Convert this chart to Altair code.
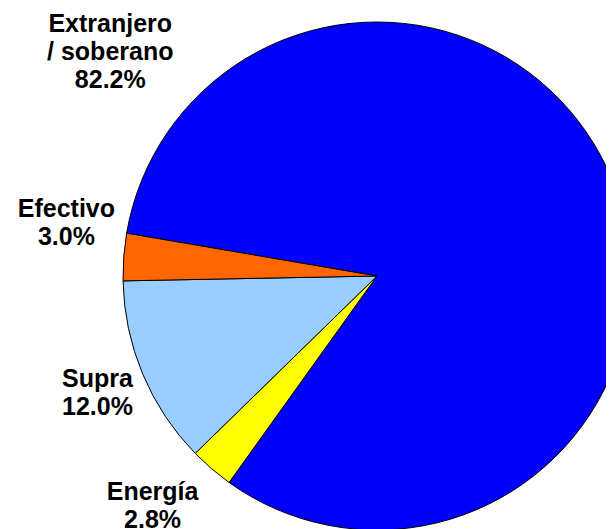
import math
import altair as alt
import pandas as pd

categorias = ["Extranjero / soberano", "Energía", "Supra", "Efectivo"]
etiquetas = ["Extranjero\n/ soberano", "Energía", "Supra", "Efectivo"]
valores = [82.2, 2.8, 12.0, 3.0]
colores = ["#0000FF", "#FFFF00", "#99CCFF", "#FF6600"]

df = pd.DataFrame({
    "categoria": categorias,
    "etiqueta": etiquetas,
    "valor": valores,
    "orden": list(range(len(categorias))),
})

W, H = 598, 521
CX, CY = 369, 268
R = 254
start = math.radians(279.7)
LH = 28

escala = alt.Scale(domain=[0, sum(valores)], range=[start, start + 2 * math.pi])
order = alt.Order("orden:Q", sort="ascending")

base = alt.Chart(df).transform_window(
    acum="sum(valor)", sort=[alt.SortField("orden", order="ascending")]
).transform_calculate(
    medio="datum.acum - datum.valor / 2",
    texto="datum.etiqueta + '\\n' + format(datum.valor, '.1f') + '%'",
)

pie = base.mark_arc(outerRadius=R, stroke="#000000", strokeWidth=1).encode(
    theta=alt.Theta("valor:Q", stack=True, scale=escala),
    order=order,
    color=alt.Color("categoria:N",
                    scale=alt.Scale(domain=categorias, range=colores),
                    legend=None),
    x=alt.value(CX),
    y=alt.value(CY),
)

# label placement nudges (degrees relative to slice middle, radius px, lines)
ajustes = {
    "Extranjero / soberano": (242.3, 348, 3),
    "Efectivo": (5.3, 315, 2),
    "Supra": (0.0, 303, 2),
    "Energía": (3.7, 321, 2),
}

capas = [pie]
for cat, (dth, rad, n) in ajustes.items():
    capas.append(
        base.transform_filter(alt.datum.categoria == cat)
        .mark_text(radius=rad, thetaOffset=math.radians(dth),
                   dy=-(n - 1) * LH / 2,
                   font="Liberation Sans", fontSize=25, fontWeight="bold",
                   lineBreak="\n", lineHeight=LH, align="center",
                   baseline="middle", color="#000000")
        .encode(theta=alt.Theta("medio:Q", stack=None, scale=escala),
                text="texto:N",
                x=alt.value(CX), y=alt.value(CY))
    )

chart = alt.layer(*capas).properties(
    width=W, height=H, padding=0, autosize=alt.AutoSizeParams(type="none"),
    background="white",
).configure_view(stroke=None)

chart.save("out.html", embed_options={"renderer": "svg", "actions": False})
